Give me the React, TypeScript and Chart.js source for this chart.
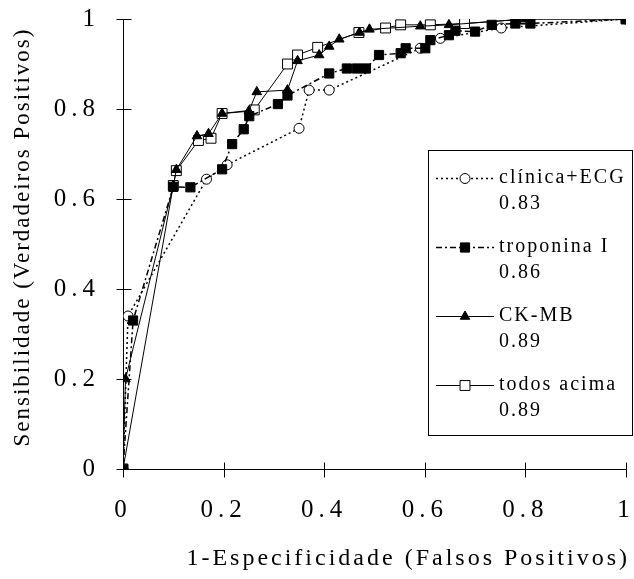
import React, { useEffect, useRef } from "react";
import { Chart, registerables } from "chart.js";

Chart.register(...registerables);

const tickValues = [0, 0.2, 0.4, 0.6, 0.8, 1];
const tickLabels = ["0", "0.2", "0.4", "0.6", "0.8", "1"];
const xTitle = "1-Especificidade (Falsos Positivos)";
const yTitle = "Sensibilidade (Verdadeiros Positivos)";
const seriesNames = ["clínica+ECG", "troponina I", "CK-MB", "todos acima"];
const aucValues = ["0.83", "0.86", "0.89", "0.89"];

const clinicaX = [0, 0.01, 0.166, 0.207, 0.35, 0.37, 0.41, 0.591, 0.631, 0.752, 1];
const clinicaY = [0, 0.34, 0.644, 0.676, 0.757, 0.842, 0.842, 0.935, 0.957, 0.98, 1];

const troponinaX = [0, 0.02, 0.1, 0.134, 0.197, 0.217, 0.24, 0.251, 0.308, 0.327, 0.41, 0.445, 0.465, 0.483, 0.509, 0.552, 0.562, 0.601, 0.611, 0.648, 0.661, 0.7, 0.733, 0.78, 0.81, 1];
const troponinaY = [0, 0.33, 0.627, 0.626, 0.666, 0.722, 0.755, 0.784, 0.811, 0.83, 0.879, 0.89, 0.89, 0.89, 0.92, 0.924, 0.935, 0.935, 0.953, 0.964, 0.974, 0.972, 0.987, 0.99, 0.99, 1];

const ckmbX = [0, 0.005, 0.1, 0.106, 0.147, 0.17, 0.197, 0.25, 0.266, 0.327, 0.347, 0.39, 0.41, 0.43, 0.47, 0.49, 0.591, 0.648, 0.8, 1];
const ckmbY = [0, 0.2, 0.63, 0.665, 0.74, 0.745, 0.79, 0.795, 0.838, 0.842, 0.907, 0.92, 0.939, 0.955, 0.97, 0.977, 0.984, 0.987, 1, 1];

const todosX = [0, 0.1, 0.106, 0.15, 0.175, 0.197, 0.261, 0.327, 0.347, 0.387, 0.469, 0.522, 0.552, 0.611, 0.679, 0.8, 1];
const todosY = [0, 0.63, 0.663, 0.73, 0.735, 0.79, 0.798, 0.9, 0.92, 0.937, 0.97, 0.98, 0.987, 0.987, 0.99, 1, 1];

const FONT_FAMILY = '"Liberation Serif", "Times New Roman", serif';

const toPoints = (xs: number[], ys: number[]) => xs.map((x, i) => ({ x, y: ys[i] }));

type Style = {
  pointStyle: string;
  radius: number;
  filled: boolean;
  dash: number[];
  width: number;
  order: number;
};

const styles: Style[] = [
  { pointStyle: "circle", radius: 5, filled: false, dash: [2, 3], width: 1.5, order: 4 },
  { pointStyle: "rect", radius: 6.5, filled: true, dash: [6, 3, 2, 3], width: 1.5, order: 1 },
  { pointStyle: "triangle", radius: 5.5, filled: true, dash: [], width: 1, order: 2 },
  { pointStyle: "rect", radius: 7, filled: false, dash: [], width: 1, order: 3 },
];

function drawMarker(ctx: CanvasRenderingContext2D, st: Style, x: number, y: number) {
  ctx.save();
  ctx.setLineDash([]);
  ctx.lineWidth = 1;
  ctx.strokeStyle = "#000";
  ctx.fillStyle = st.filled ? "#000" : "#fff";
  ctx.beginPath();
  const r = st.radius;
  if (st.pointStyle === "circle") {
    ctx.arc(x, y, r, 0, Math.PI * 2);
  } else if (st.pointStyle === "rect") {
    const s = Math.SQRT1_2 * r;
    ctx.rect(x - s, y - s, 2 * s, 2 * s);
  } else {
    ctx.moveTo(x, y - r);
    ctx.lineTo(x + 0.866 * r, y + 0.5 * r);
    ctx.lineTo(x - 0.866 * r, y + 0.5 * r);
    ctx.closePath();
  }
  ctx.fill();
  ctx.stroke();
  ctx.restore();
}

// tick labels are widely letter-spaced, as in the reference
const spacingPlugin = {
  id: "spacing",
  beforeUpdate(chart: any) {
    chart.ctx.letterSpacing = "5px";
  },
  beforeDraw(chart: any) {
    chart.ctx.letterSpacing = "5px";
  },
};

const axesPlugin = {
  id: "axesCross",
  beforeDatasetsDraw(chart: any) {
    const { ctx, chartArea, scales } = chart;
    const { left, right, top, bottom } = chartArea;
    ctx.save();
    ctx.strokeStyle = "#000";
    ctx.lineWidth = 1;
    ctx.setLineDash([]);
    ctx.beginPath();
    const ax = Math.round(left) + 0.5;
    const ay = Math.round(bottom) + 0.5;
    ctx.moveTo(ax, top);
    ctx.lineTo(ax, bottom);
    ctx.moveTo(left, ay);
    ctx.lineTo(right, ay);
    tickValues.forEach((v) => {
      const px = Math.round(scales.x.getPixelForValue(v)) + 0.5;
      ctx.moveTo(px, ay - 7);
      ctx.lineTo(px, ay + 8);
      const py = Math.round(scales.y.getPixelForValue(v)) + 0.5;
      ctx.moveTo(ax - 7, py);
      ctx.lineTo(ax + 8, py);
    });
    ctx.stroke();
    ctx.restore();
  },
  afterDraw(chart: any) {
    const ctx: CanvasRenderingContext2D = chart.ctx;
    const { chartArea } = chart;
    // axis titles
    ctx.save();
    ctx.fillStyle = "#000";
    (ctx as any).letterSpacing = "3px";
    ctx.font = `24px ${FONT_FAMILY}`;
    ctx.textBaseline = "middle";
    ctx.textAlign = "right";
    ctx.fillText(xTitle, chartArea.right + 4, 559);
    ctx.translate(23, (chartArea.top + chartArea.bottom) / 2 - 6);
    ctx.rotate(-Math.PI / 2);
    (ctx as any).letterSpacing = "2px";
    ctx.font = `23px ${FONT_FAMILY}`;
    ctx.textAlign = "center";
    ctx.fillText(yTitle, 1, 0);
    ctx.restore();

    // legend
    ctx.save();
    const bx0 = 428.5, by0 = 150.5, bx1 = 632.5, by1 = 435.5;
    ctx.fillStyle = "#fff";
    ctx.fillRect(bx0, by0, bx1 - bx0, by1 - by0);
    ctx.strokeStyle = "#000";
    ctx.lineWidth = 1;
    ctx.strokeRect(bx0, by0, bx1 - bx0, by1 - by0);
    (ctx as any).letterSpacing = "2px";
    ctx.font = `20px ${FONT_FAMILY}`;
    ctx.textBaseline = "middle";
    ctx.textAlign = "left";
    seriesNames.forEach((name, i) => {
      const st = styles[i];
      const cy = 178 + 69 * i;
      ctx.save();
      ctx.strokeStyle = "#000";
      ctx.lineWidth = st.width;
      ctx.setLineDash(st.dash);
      ctx.beginPath();
      ctx.moveTo(436, cy + 0.5);
      ctx.lineTo(494, cy + 0.5);
      ctx.stroke();
      ctx.restore();
      drawMarker(ctx, st, 465, cy + 0.5);
      ctx.fillStyle = "#000";
      ctx.fillText(name, 499, cy);
      ctx.fillText(aucValues[i], 499, cy + 26);
    });
    ctx.restore();
  },
};

export default function App() {
  const ref = useRef<HTMLCanvasElement | null>(null);
  useEffect(() => {
    const canvas = ref.current;
    if (!canvas) return;
    const series = [
      toPoints(clinicaX, clinicaY),
      toPoints(troponinaX, troponinaY),
      toPoints(ckmbX, ckmbY),
      toPoints(todosX, todosY),
    ];
    const datasets = series.map((data, i) => {
      const st = styles[i];
      return {
        label: seriesNames[i],
        data,
        showLine: true,
        borderColor: "#000",
        borderWidth: st.width,
        borderDash: st.dash,
        backgroundColor: "#000",
        pointStyle: st.pointStyle as any,
        pointRadius: st.radius,
        pointBorderWidth: 1,
        pointBorderColor: "#000",
        pointBackgroundColor: st.filled ? "#000" : "#fff",
        tension: 0,
        order: st.order,
      };
    });
    const tickFont = { family: FONT_FAMILY, size: 25 };
    const labelFor = (v: number) => {
      const idx = tickValues.findIndex((t) => Math.abs(t - v) < 1e-9);
      return idx >= 0 ? tickLabels[idx] : "";
    };
    const chart = new Chart(canvas, {
      type: "scatter",
      data: { datasets: datasets as any },
      options: {
        animation: false,
        responsive: false,
        devicePixelRatio: 1,
        layout: { padding: { top: 19, right: 6, left: 0, bottom: 0 } },
        plugins: { legend: { display: false }, tooltip: { enabled: false } },
        scales: {
          x: {
            type: "linear",
            min: 0,
            max: 1,
            afterBuildTicks: (s: any) => {
              s.ticks = tickValues.map((v) => ({ value: v }));
            },
            afterFit: (s: any) => {
              s.height = 110;
              s.paddingLeft = 0;
              s.paddingRight = 0;
            },
            grid: { display: false, drawTicks: false },
            border: { display: false },
            ticks: {
              callback: (v: any) => labelFor(Number(v)),
              padding: 26,
              font: tickFont,
              color: "#000",
              maxRotation: 0,
              autoSkip: false,
              z: 1,
            },
            title: { display: false, text: xTitle },
          },
          y: {
            type: "linear",
            min: 0,
            max: 1,
            afterBuildTicks: (s: any) => {
              s.ticks = tickValues.map((v) => ({ value: v }));
            },
            afterFit: (s: any) => {
              s.width = 123;
              s.paddingTop = 0;
              s.paddingBottom = 0;
            },
            grid: { display: false, drawTicks: false },
            border: { display: false },
            ticks: {
              callback: (v: any) => labelFor(Number(v)),
              padding: 23,
              font: tickFont,
              color: "#000",
              autoSkip: false,
              z: 1,
            },
            title: { display: false, text: yTitle },
          },
        },
      },
      plugins: [spacingPlugin as any, axesPlugin as any],
    });
    return () => chart.destroy();
  }, []);
  return (
    <div style={{ position: "fixed", left: 0, top: 0, width: 634, height: 579, background: "#fff" }}>
      <canvas ref={ref} width={634} height={579} />
    </div>
  );
}
